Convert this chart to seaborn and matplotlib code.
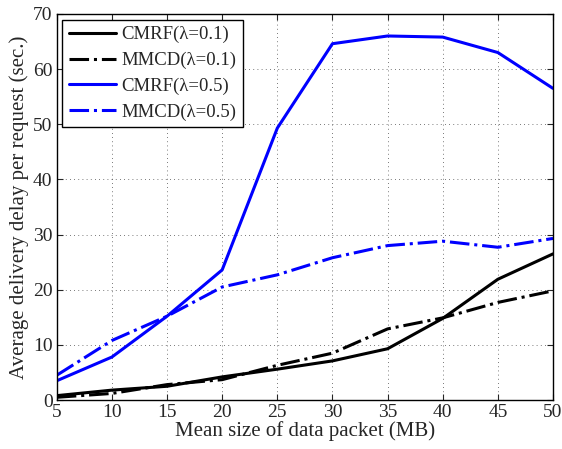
import pandas as pd
import matplotlib
matplotlib.use('Agg')
import matplotlib.pyplot as plt
import seaborn as sns

# data
packet_size = [5, 10, 15, 20, 25, 30, 35, 40, 45, 50]
cmrf_01 = [0.8, 1.8, 2.5, 4.2, 5.6, 7.1, 9.3, 14.8, 21.9, 26.5]
mmcd_01 = [0.5, 1.2, 2.8, 3.7, 6.3, 8.5, 12.9, 14.9, 17.7, 19.8]
cmrf_05 = [3.5, 7.8, 15.2, 23.6, 49.3, 64.6, 66.0, 65.8, 63.0, 56.5]
mmcd_05 = [4.5, 10.8, 15.2, 20.5, 22.7, 25.8, 28.0, 28.8, 27.7, 29.3]

series = {
    'CMRF(λ=0.1)': (cmrf_01, 'black', '-'),
    'MMCD(λ=0.1)': (mmcd_01, 'black', '-.'),
    'CMRF(λ=0.5)': (cmrf_05, 'blue', '-'),
    'MMCD(λ=0.5)': (mmcd_05, 'blue', '-.'),
}

sns.set_style('ticks')
plt.rcParams['font.family'] = ['Liberation Serif', 'DejaVu Serif']
plt.rcParams['xtick.direction'] = 'in'
plt.rcParams['ytick.direction'] = 'in'

fig, ax = plt.subplots(figsize=(5.62, 4.49), dpi=100)
for name, (vals, col, ls) in series.items():
    df = pd.DataFrame({'x': packet_size, 'y': vals})
    sns.lineplot(data=df, x='x', y='y', ax=ax, color=col, linestyle=ls,
                 linewidth=2.2, label=name)

ax.set_xlim(5, 50)
ax.set_ylim(0, 70)
ax.set_xticks(packet_size)
ax.set_yticks(range(0, 71, 10))
ax.grid(True, linestyle=(0, (1, 4)), color='black', linewidth=0.6, alpha=0.7)
ax.tick_params(labelsize=14, top=True, right=True, length=4, pad=3)
for s in ax.spines.values():
    s.set_linewidth(1.0)
    s.set_color('black')
ax.set_xlabel('Mean size of data packet (MB)', fontsize=15, labelpad=0)
ax.set_ylabel('Average delivery delay per request (sec.)', fontsize=15, labelpad=3)

leg = ax.legend(loc='upper left', fontsize=13.5, frameon=True, fancybox=False,
                borderaxespad=0.3, handlelength=2.5, handletextpad=0.3,
                labelspacing=0.45, borderpad=0.35)
leg.get_frame().set_edgecolor('black')
leg.get_frame().set_linewidth(1.0)
leg.get_frame().set_alpha(1)

fig.subplots_adjust(left=0.101, right=0.984, top=0.969, bottom=0.109)
plt.savefig('out.png', dpi=100)
plt.close()
